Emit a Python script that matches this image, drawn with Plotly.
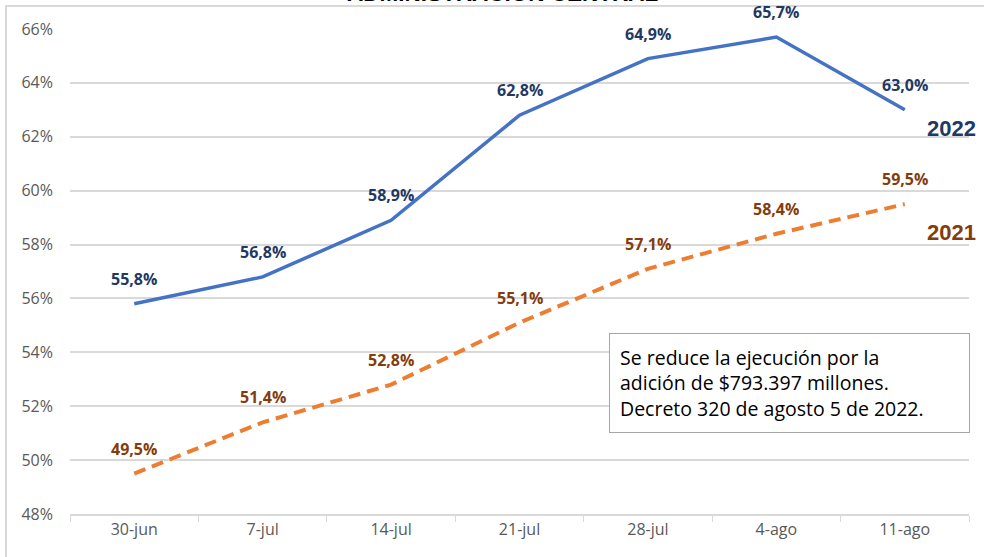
import plotly.graph_objects as go

categories = ['30-jun', '7-jul', '14-jul', '21-jul', '28-jul', '4-ago', '11-ago']
ejec_2022 = [55.8, 56.8, 58.9, 62.8, 64.9, 65.7, 63.0]
ejec_2021 = [49.5, 51.4, 52.8, 55.1, 57.1, 58.4, 59.5]
y_ticks = [48, 50, 52, 54, 56, 58, 60, 62, 64, 66]

BLUE = '#4472C4'
ORANGE = '#ED7D31'
NAVY = '#1F3864'
BROWN = '#843C0C'


def fmt(v):
    return f'{v:.1f}%'.replace('.', ',')


def value_labels(values, color):
    return [
        dict(text=f'<b>{fmt(v)}</b>', x=c, y=v, xref='x', yref='y',
             yshift=25, showarrow=False,
             font=dict(family='Open Sans', size=16, color=color))
        for c, v in zip(categories, values)
    ]


fig = go.Figure()
fig.add_trace(go.Scatter(
    x=categories, y=ejec_2022, mode='lines', name='2022',
    line=dict(color=BLUE, width=3.5),
))
fig.add_trace(go.Scatter(
    x=categories, y=ejec_2021, mode='lines', name='2021',
    line=dict(color=ORANGE, width=4, dash='12px,7px'),
))

fig.update_layout(
    width=984, height=557,
    margin=dict(t=29, l=70, r=15, b=43),
    plot_bgcolor='white', paper_bgcolor='white',
    showlegend=False,
    font=dict(family='Open Sans', color='#595959', size=16),
    xaxis=dict(
        type='category', showgrid=False, showline=True, linecolor='#D9D9D9',
        linewidth=1.5, ticks='outside', tickson='boundaries', ticklen=6,
        tickcolor='#D9D9D9', range=[-0.5, 6.5], tickfont=dict(size=16),
    ),
    yaxis=dict(
        range=[48, 66], tickvals=y_ticks, ticktext=[f'{v}%' for v in y_ticks],
        showgrid=True, gridcolor='#D9D9D9', gridwidth=1.5, zeroline=False,
        ticks='', ticklabelstandoff=16, tickfont=dict(size=16),
    ),
    shapes=[
        dict(type='rect', xref='paper', yref='paper', x0=-0.0712, x1=1.03,
             y0=-0.2, y1=1.0474, line=dict(color='#D9D9D9', width=2)),
    ],
    annotations=value_labels(ejec_2022, NAVY) + value_labels(ejec_2021, BROWN) + [
        dict(text='<b>ADMINISTRACIÓN CENTRAL</b>', xref='paper', yref='paper',
             x=0.481, y=1.0433, yanchor='bottom', showarrow=False,
             font=dict(family='Liberation Sans', size=22.5, color='black')),
        dict(text='<b>2022</b>', xref='paper', yref='y', x=1.01, y=62.3,
             xanchor='right', showarrow=False,
             font=dict(family='Liberation Sans', size=22, color=NAVY)),
        dict(text='<b>2021</b>', xref='paper', yref='y', x=1.01, y=58.45,
             xanchor='right', showarrow=False,
             font=dict(family='Liberation Sans', size=22, color=BROWN)),
        dict(text='Se reduce la ejecución por la<br>adición de $793.397 millones.<br>'
                  'Decreto 320 de agosto 5 de 2022.',
             xref='paper', yref='paper', x=0.599, y=0.374,
             xanchor='left', yanchor='top', align='left', showarrow=False,
             bordercolor='#A6A6A6', borderwidth=1, borderpad=10, bgcolor='white',
             width=339,
             font=dict(family='Open Sans', size=19.5, color='black')),
    ],
)

fig.write_html('out.html', config={'displayModeBar': False},
               post_script="document.body.style.margin='0';")
